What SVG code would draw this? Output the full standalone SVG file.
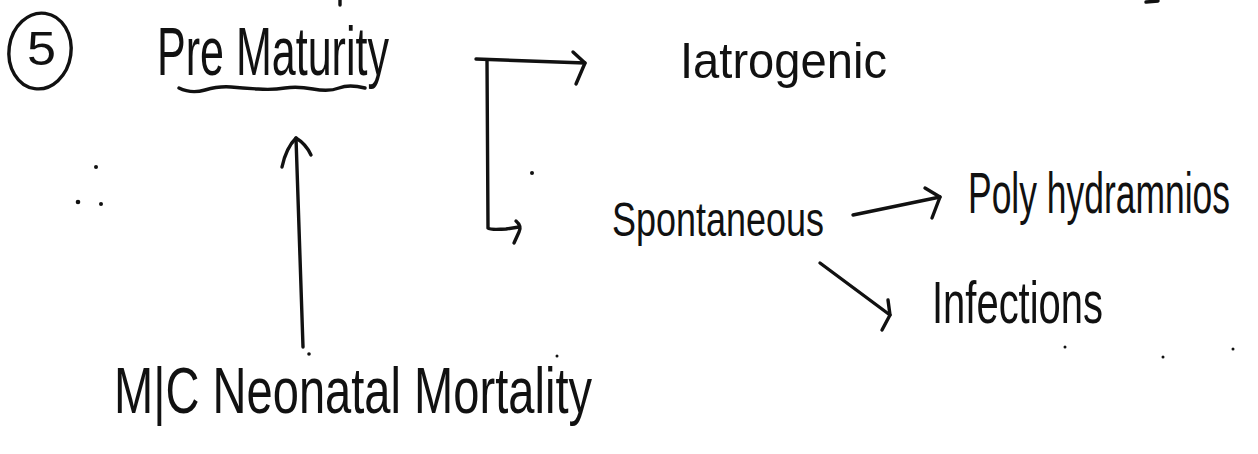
<svg xmlns="http://www.w3.org/2000/svg" width="1258" height="454" viewBox="0 0 1258 454">
  <style>
    .ink { fill: none; stroke: #111; stroke-width: 3.4; stroke-linecap: round; stroke-linejoin: round; }
    .lbl { font-family: "Liberation Sans", Arial, sans-serif; fill: #111; }
    .dot { fill: #111; }
  </style>
  <rect width="1258" height="454" fill="#ffffff"/>

  <!-- point number -->
  <g id="num5">
    <ellipse class="ink" cx="40" cy="51" rx="31" ry="38" transform="rotate(8 40 51)"/>
    <text class="lbl" x="27" y="65" font-size="48" textLength="29" lengthAdjust="spacingAndGlyphs">5</text>
  </g>

  <!-- main heading with wavy underline -->
  <g id="prematurity">
    <text class="lbl" x="157" y="75" font-size="68" textLength="232" lengthAdjust="spacingAndGlyphs">Pre Maturity</text>
    <path class="ink" d="M179,88 q12,6 26,2 t26,-3 t27,2 t27,-1 t28,1 t26,-1 t26,0" />
  </g>

  <g id="iatrogenic">
    <text class="lbl" x="680" y="78" font-size="50" textLength="207" lengthAdjust="spacingAndGlyphs">Iatrogenic</text>
  </g>

  <g id="spontaneous">
    <text class="lbl" x="612" y="236" font-size="48" textLength="212" lengthAdjust="spacingAndGlyphs">Spontaneous</text>
  </g>

  <g id="polyhydramnios">
    <text class="lbl" x="968" y="213" font-size="58" textLength="262" lengthAdjust="spacingAndGlyphs">Poly hydramnios</text>
  </g>

  <g id="infections">
    <text class="lbl" x="932" y="323" font-size="60" textLength="171" lengthAdjust="spacingAndGlyphs">Infections</text>
  </g>

  <g id="neonatal">
    <text class="lbl" x="114" y="413" font-size="64" textLength="478" lengthAdjust="spacingAndGlyphs">M|C Neonatal Mortality</text>
  </g>

  <g id="connectors">
    <!-- bracket splitting into the two causes -->
    <path class="ink" d="M476,59 L585,63"/>
    <path class="ink" d="M573,52 L585,63 L576,84"/>
    <path class="ink" d="M487,60 L488,228 Q490,230 506,229 L519,227"/>
    <path class="ink" d="M516,221 Q522,226 519,232 L514,243"/>
    <!-- neonatal mortality up to prematurity -->
    <path class="ink" d="M303,347 L296,138"/>
    <path class="ink" d="M282,167 Q286,148 296,138 Q306,144 311,155"/>
    <!-- spontaneous causes -->
    <path class="ink" d="M853,215 L940,197"/>
    <path class="ink" d="M925,188 L940,197 L932,218"/>
    <path class="ink" d="M820,263 L890,315"/>
    <path class="ink" d="M888,300 L890,315 L882,330"/>
  </g>

  <!-- stray pen marks -->
  <g id="marks">
    <circle class="dot" cx="96" cy="167" r="2"/>
    <circle class="dot" cx="78" cy="202" r="2.3"/>
    <circle class="dot" cx="101" cy="204" r="2"/>
    <circle class="dot" cx="532" cy="173" r="2"/>
    <circle class="dot" cx="309" cy="354" r="1.8"/>
    <circle class="dot" cx="557" cy="356" r="1.5"/>
    <circle class="dot" cx="1065" cy="347" r="1.5"/>
    <circle class="dot" cx="1163" cy="357" r="1.5"/>
    <circle class="dot" cx="1233" cy="349" r="1.5"/>
    <path class="ink" d="M1146,2 L1158,1"/>
    <path class="ink" d="M340,0 L340,5" stroke-width="2"/>
  </g>
</svg>
